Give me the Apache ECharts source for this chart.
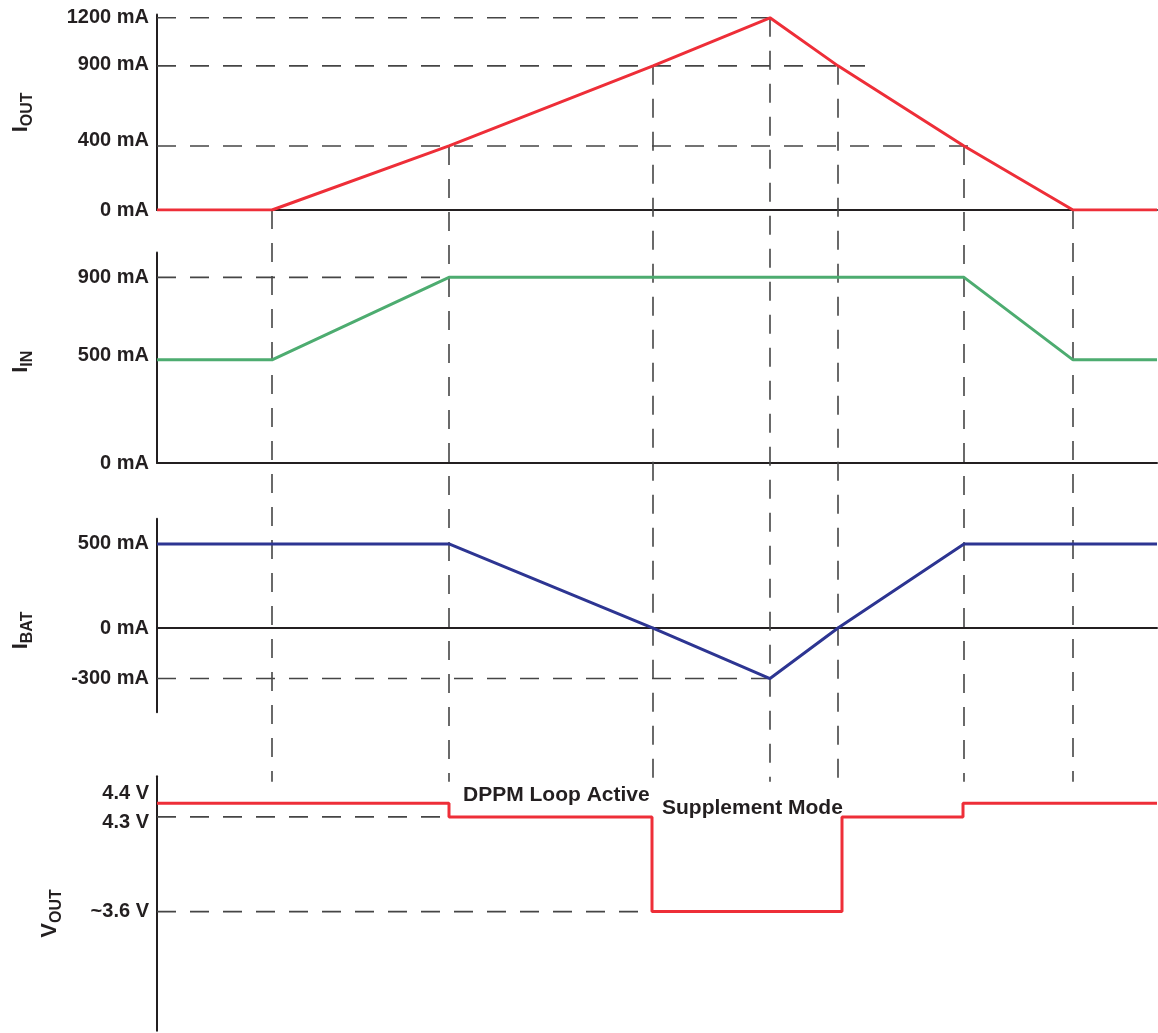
<!DOCTYPE html>
<html>
<head>
<meta charset="utf-8">
<script src="https://cdn.jsdelivr.net/npm/echarts@6/dist/echarts.min.js"></script>
<style>
html,body{margin:0;padding:0;background:#ffffff;}
#c{width:1158px;height:1033px;}
</style>
</head>
<body>
<div id="c"></div>
<script>
// ---- data ----
const timeMarks   = [0, 115, 292, 496, 613, 681, 807, 916, 1000];
const ioutValues  = [0, 0, 400, 900, 1200, 900, 400, 0, 0];
const iinValues   = [500, 500, 900, 900, 900, 900, 900, 500, 500];
const ibatValues  = [500, 500, 500, 0, -300, 0, 500, 500, 500];
const voutTimes   = [0, 292, 495, 685, 806, 1000];
const voutValues  = [4.4, 4.3, 3.6, 4.3, 4.4, 4.4];

const ioutTicks = [0, 400, 900, 1200];
const ioutTickLabels = ['0 mA', '400 mA', '900 mA', '1200 mA'];
const iinTicks = [0, 500, 900];
const iinTickLabels = ['0 mA', '500 mA', '900 mA'];
const ibatTicks = [-300, 0, 500];
const ibatTickLabels = ['-300 mA', '0 mA', '500 mA'];
const voutTicks = [3.6, 4.3, 4.4];
const voutTickLabels = ['~3.6 V', '4.3 V', '4.4 V'];

// horizontal guide lines: value and end time
const ioutGuideValues = [1200, 900, 400];
const ioutGuideEnds   = [613, 708, 818];
const iinGuideValues  = [900];
const iinGuideEnds    = [292];
const ibatGuideValues = [-300];
const ibatGuideEnds   = [613];
const voutGuideValues = [4.3, 3.6];
const voutGuideEnds   = [292, 495];

// vertical guide lines (indices into timeMarks), end level in VOUT panel
const verticalGuideIdx = [1, 2, 3, 4, 5, 6, 7];
const verticalGuideBottomV = 4.56;

const annotations = ['DPPM Loop Active', 'Supplement Mode'];
const axisNames = ['{a|I}{b|OUT}', '{a|I}{b|IN}', '{a|I}{b|BAT}', '{a|V}{b|OUT}'];

// ---- styles ----
const FONT = '"Liberation Sans", Arial, Helvetica, sans-serif';
const INK = '#231f20';
const RED = '#ee2e38';
const GREEN = '#4dac70';
const BLUE = '#2d3592';
const DASH = '#454545';

const chart = echarts.init(document.getElementById('c'), null, {renderer: 'canvas'});

const grids = [
  {left: 157, width: 1000, top: 14.6, height: 195.4},
  {left: 157, width: 1000, top: 252.6, height: 210.4},
  {left: 157, width: 1000, top: 518.7, height: 193.5},
  {left: 157, width: 1000, top: 776.3, height: 254.4}
];
const yRanges = [[0, 1220], [0, 1020], [-500, 650], [2.72, 4.6]];
const tickSets = [ioutTicks, iinTicks, ibatTicks, voutTicks];
const tickLabelSets = [ioutTickLabels, iinTickLabels, ibatTickLabels, voutTickLabels];
const nameGaps = [121, 121, 121, 92];
const namePads = [[0, 0, 0, 0], [0, 8, 0, 0], [0, 30, 0, 0], [0, 20, 0, 0]];
// label nudges (padding top, bottom) per panel, per tick
const labelPads = [
  [[0, 0], [0, 10], [0, 2], [0, 0]],
  [[0, 0], [0, 8], [0, 0]],
  [[0, 0], [0, 0], [0, 0]],
  [[0, 0], [12, 0], [0, 20]]
];

const xAxes = grids.map((g, i) => ({
  type: 'value', gridIndex: i, min: 0, max: 1000,
  axisLabel: {show: false}, axisTick: {show: false}, splitLine: {show: false},
  axisLine: {show: i < 3, onZero: true, lineStyle: {color: INK, width: 2}}
}));

const yAxes = grids.map((g, i) => {
  const rich = {};
  tickSets[i].forEach((t, k) => {
    rich['t' + k] = {
      color: INK, fontSize: 20, fontWeight: 'bold', fontFamily: FONT,
      padding: [labelPads[i][k][0], 0, labelPads[i][k][1], 0]
    };
  });
  return {
    type: 'value', gridIndex: i, min: yRanges[i][0], max: yRanges[i][1],
    splitLine: {show: false}, axisTick: {show: false},
    axisLine: {show: true, onZero: false, lineStyle: {color: INK, width: 2}},
    axisLabel: {
      show: true, customValues: tickSets[i], margin: 8, hideOverlap: false,
      showMinLabel: true, showMaxLabel: true,
      color: INK, fontSize: 20, fontWeight: 'bold', fontFamily: FONT,
      rich: rich,
      formatter: (v) => {
        const k = tickSets[i].findIndex(t => Math.abs(t - v) < 1e-6);
        return k >= 0 ? '{t' + k + '|' + tickLabelSets[i][k] + '}' : '';
      }
    },
    name: axisNames[i], nameLocation: 'middle', nameGap: nameGaps[i], nameRotate: 90,
    nameTextStyle: {
      padding: namePads[i],
      rich: {
        a: {fontSize: 22, fontWeight: 'bold', fontFamily: FONT, color: INK, verticalAlign: 'top', lineHeight: 21},
        b: {fontSize: 16, fontWeight: 'bold', fontFamily: FONT, color: INK, verticalAlign: 'bottom', lineHeight: 26}
      }
    }
  };
});

function pairs(xs, ys) { return xs.map((x, k) => [x, ys[k]]); }

const series = [];
function guideSeries(gridIdx, vals, ends) {
  vals.forEach((v, k) => {
    series.push({
      type: 'line', xAxisIndex: gridIdx, yAxisIndex: gridIdx, silent: true,
      showSymbol: false, symbol: 'none', z: 1,
      lineStyle: {color: DASH, width: 1.6, type: [19, 14]},
      data: [[0, v], [ends[k], v]]
    });
  });
}
guideSeries(0, ioutGuideValues, ioutGuideEnds);
guideSeries(1, iinGuideValues, iinGuideEnds);
guideSeries(2, ibatGuideValues, ibatGuideEnds);
guideSeries(3, voutGuideValues, voutGuideEnds);

series.push({type: 'line', name: 'IOUT', xAxisIndex: 0, yAxisIndex: 0, showSymbol: false, symbol: 'none', z: 5,
  lineStyle: {color: RED, width: 3}, data: pairs(timeMarks, ioutValues)});
series.push({type: 'line', name: 'IIN', xAxisIndex: 1, yAxisIndex: 1, showSymbol: false, symbol: 'none', z: 5,
  lineStyle: {color: GREEN, width: 3}, data: pairs(timeMarks, iinValues)});
series.push({type: 'line', name: 'IBAT', xAxisIndex: 2, yAxisIndex: 2, showSymbol: false, symbol: 'none', z: 5,
  lineStyle: {color: BLUE, width: 3}, data: pairs(timeMarks, ibatValues)});
series.push({type: 'line', name: 'VOUT', xAxisIndex: 3, yAxisIndex: 3, showSymbol: false, symbol: 'none', z: 5,
  step: 'end', lineStyle: {color: RED, width: 3}, data: pairs(voutTimes, voutValues)});

chart.setOption({
  animation: false,
  backgroundColor: '#ffffff',
  grid: grids,
  xAxis: xAxes,
  yAxis: yAxes,
  series: series
});

// vertical guide lines spanning the panels, placed through the axes' scales
const elements = [];
verticalGuideIdx.forEach((idx) => {
  const t = timeMarks[idx];
  const p1 = chart.convertToPixel({gridIndex: 0}, [t, ioutValues[idx]]);
  const p2 = chart.convertToPixel({gridIndex: 3}, [t, verticalGuideBottomV]);
  elements.push({
    type: 'line', z: 1, silent: true,
    shape: {x1: p1[0], y1: p1[1], x2: p2[0], y2: p2[1]},
    style: {stroke: DASH, lineWidth: 1.6, lineDash: [19, 14]}
  });
});
elements.push({
  type: 'text', left: 463, top: 785, z: 10,
  style: {text: annotations[0], fill: INK, font: 'bold 21px ' + FONT}
});
elements.push({
  type: 'text', left: 662, top: 798, z: 10,
  style: {text: annotations[1], fill: INK, font: 'bold 21px ' + FONT}
});
chart.setOption({graphic: {elements: elements}});
</script>
</body>
</html>
